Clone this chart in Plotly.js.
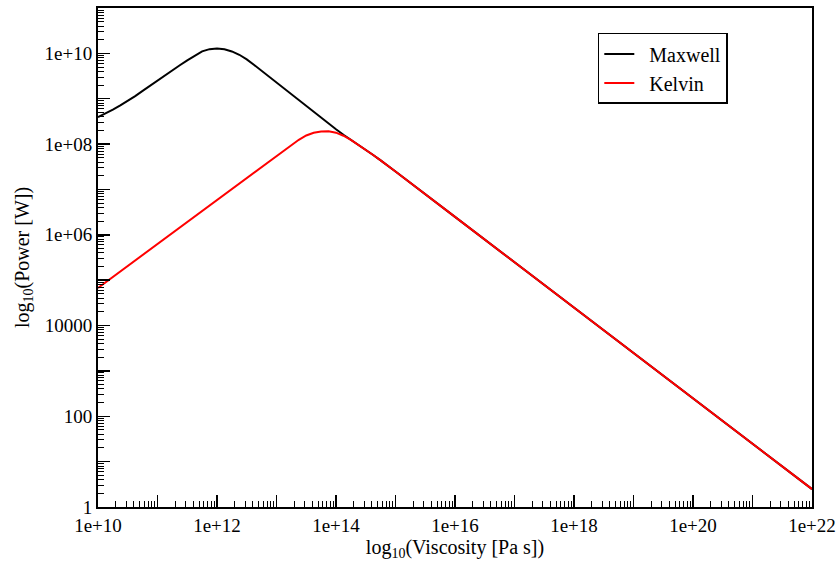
<!DOCTYPE html>
<html><head><meta charset="utf-8">
<script src="https://cdn.plot.ly/plotly-3.0.1.min.js"></script>
<style>html,body{margin:0;padding:0;background:#fff}#chart{width:840px;height:562px}</style>
</head><body><div id="chart"></div>
<script>
// Values, in decades (log10 units, as the axis titles say)
const logViscosity = [10.000, 10.125, 10.250, 10.375, 10.500, 10.625, 10.750, 10.875,
  11.000, 11.125, 11.250, 11.375, 11.500, 11.625, 11.750, 11.875,
  12.000, 12.125, 12.250, 12.375, 12.500, 12.625, 12.750, 12.875,
  13.000, 13.125, 13.250, 13.375, 13.500, 13.625, 13.750, 13.875,
  14.000, 14.125, 14.250, 14.375, 14.500, 14.625, 14.750, 14.875,
  15.000, 16.000, 18.000, 20.000, 22.000];
const logPowerMaxwell = [8.594, 8.674, 8.759, 8.852, 8.952, 9.059, 9.173, 9.289,
  9.404, 9.517, 9.628, 9.738, 9.847, 9.953, 10.043, 10.093,
  10.109, 10.089, 10.042, 9.969, 9.868, 9.745, 9.615, 9.488,
  9.360, 9.231, 9.102, 8.973, 8.843, 8.714, 8.585, 8.455,
  8.326, 8.205, 8.098, 7.990, 7.877, 7.760, 7.641, 7.520,
  7.397, 6.395, 4.395, 2.395, 0.395];
const logPowerKelvin = [4.830, 4.951, 5.073, 5.194, 5.315, 5.436, 5.558, 5.679,
  5.800, 5.921, 6.043, 6.164, 6.285, 6.406, 6.528, 6.649,
  6.770, 6.891, 7.013, 7.134, 7.255, 7.377, 7.500, 7.621,
  7.742, 7.862, 7.980, 8.095, 8.190, 8.250, 8.277, 8.282,
  8.252, 8.185, 8.091, 7.986, 7.875, 7.759, 7.640, 7.519,
  7.397, 6.395, 4.395, 2.395, 0.395];

const xTickVals = [1e10,1e11,1e12,1e13,1e14,1e15,1e16,1e17,1e18,1e19,1e20,1e21,1e22];
const xTickText = ['1e+10','','1e+12','','1e+14','','1e+16','','1e+18','','1e+20','','1e+22'];
const yTickVals = [1,10,100,1e3,1e4,1e5,1e6,1e7,1e8,1e9,1e10,1e11];
const yTickText = ['1','','100','','10000','','1e+06','','1e+08','','1e+10',''];

const toLinear = a => a.map(v => Math.pow(10, v));
function minorVals(lo, hi) {
  const v = [];
  for (let e = lo; e < hi; e++) for (let m = 2; m <= 9; m++) v.push(m * Math.pow(10, e));
  return v;
}

const fam = 'Liberation Serif, Times New Roman, serif';
const tickFont = {family: fam, size: 19, color: '#000'};
const titleFont = {family: fam, size: 20, color: '#000'};

const traces = [
  {x: toLinear(logViscosity), y: toLinear(logPowerMaxwell), name: '\u00a0\u00a0Maxwell',
   type: 'scatter', mode: 'lines', line: {color: '#000000', width: 2}},
  {x: toLinear(logViscosity), y: toLinear(logPowerKelvin), name: '\u00a0\u00a0Kelvin',
   type: 'scatter', mode: 'lines', line: {color: '#ff0000', width: 2}}
];

const axisCommon = {
  showgrid: false, zeroline: false, showline: true, linecolor: '#000', linewidth: 2,
  mirror: true, ticks: 'inside', ticklen: 12, tickwidth: 1.5, tickcolor: '#000',
  tickmode: 'array', tickfont: tickFont
};

const layout = {
  width: 840, height: 562,
  margin: {l: 98, r: 28, t: 8, b: 55},
  paper_bgcolor: '#fff', plot_bgcolor: '#fff',
  font: tickFont,
  showlegend: true,
  legend: {x: 0.70, y: 0.950, xanchor: 'left', yanchor: 'top', bgcolor: '#fff',
    bordercolor: '#000', borderwidth: 1.5, font: titleFont},
  xaxis: Object.assign({}, axisCommon, {
    type: 'log', range: [10, 22], tickvals: xTickVals, ticktext: xTickText,
    minor: {tickmode: 'array', tickvals: minorVals(10, 22), ticks: 'inside', ticklen: 6, tickwidth: 1, tickcolor: '#000'},
    title: {text: 'log<sub>10</sub>(Viscosity [Pa s])', font: titleFont, standoff: 1}
  }),
  yaxis: Object.assign({}, axisCommon, {
    type: 'log', range: [0, 11], tickvals: yTickVals, ticktext: yTickText,
    minor: {tickmode: 'array', tickvals: minorVals(0, 11), ticks: 'inside', ticklen: 6, tickwidth: 1, tickcolor: '#000'},
    title: {text: 'log<sub>10</sub>(Power [W])', font: titleFont, standoff: 10}
  })
};

Plotly.newPlot('chart', traces, layout, {displayModeBar: false, staticPlot: true});
</script>
</body></html>
